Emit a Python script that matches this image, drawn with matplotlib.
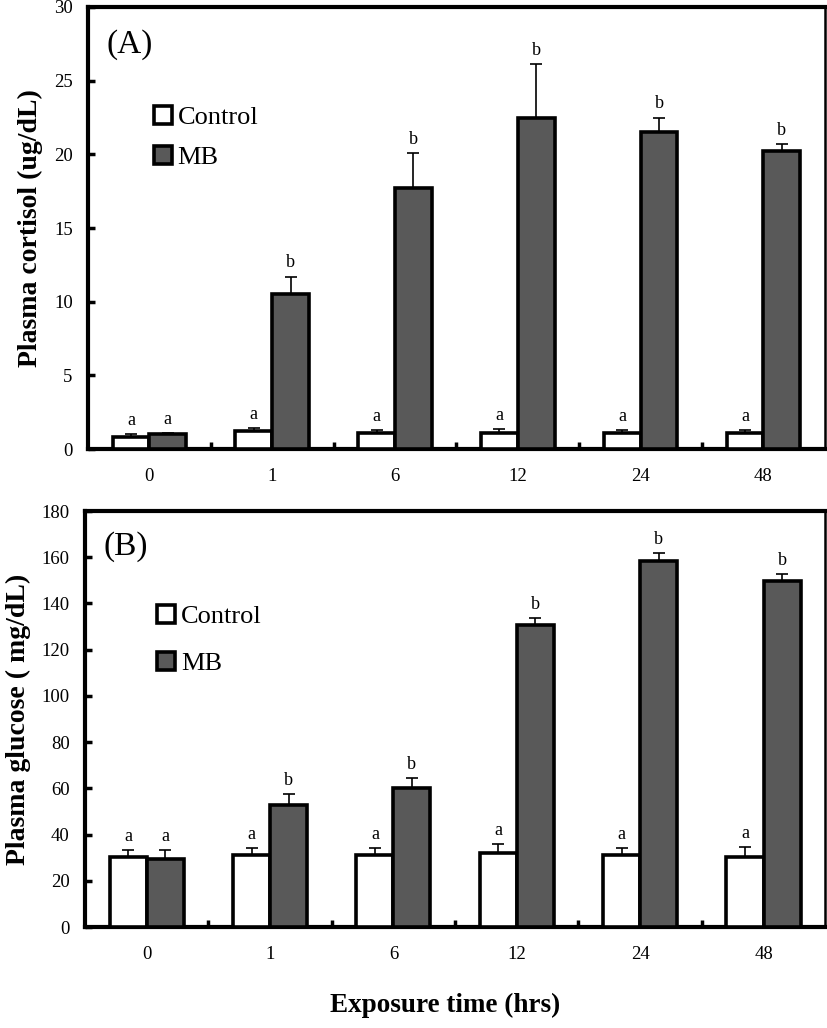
import matplotlib
matplotlib.use('Agg')
import matplotlib.pyplot as plt
import numpy as np

plt.rcParams['font.family'] = ['Liberation Serif', 'DejaVu Serif']

times = ['0', '1', '6', '12', '24', '48']

# panel A - plasma cortisol (ug/dL)
cort_ctrl = [0.8, 1.2, 1.1, 1.1, 1.1, 1.1]
cort_ctrl_err = [0.2, 0.2, 0.2, 0.25, 0.2, 0.2]
cort_mb = [1.0, 10.5, 17.7, 22.5, 21.5, 20.2]
cort_mb_err = [0.1, 1.2, 2.4, 3.6, 1.0, 0.5]
cort_ctrl_sig = ['a', 'a', 'a', 'a', 'a', 'a']
cort_mb_sig = ['a', 'b', 'b', 'b', 'b', 'b']

# panel B - plasma glucose (mg/dL)
glu_ctrl = [30.3, 31.1, 31.0, 32.0, 31.1, 30.3]
glu_ctrl_err = [3.0, 3.1, 3.0, 3.9, 3.1, 4.3]
glu_mb = [29.4, 52.8, 60.1, 130.7, 158.4, 149.7]
glu_mb_err = [3.9, 4.7, 4.4, 3.0, 3.4, 3.1]
glu_ctrl_sig = ['a', 'a', 'a', 'a', 'a', 'a']
glu_mb_sig = ['a', 'b', 'b', 'b', 'b', 'b']


def panel(ax, ctrl, ctrl_err, mb, mb_err, ctrl_sig, mb_sig, ymax, step, tag, ylabel, leg_anchor, leg_sp):
    x = np.arange(len(times))
    w = 0.3
    ekw = dict(ecolor='black', elinewidth=1.2, capsize=4, capthick=1.2)
    ax.bar(x - w/2, ctrl, w, color='white', edgecolor='black', linewidth=2.6,
           yerr=[np.zeros(len(ctrl)), ctrl_err], error_kw=ekw, label='Control', zorder=3)
    ax.bar(x + w/2, mb, w, color='#595959', edgecolor='black', linewidth=2.6,
           yerr=[np.zeros(len(mb)), mb_err], error_kw=ekw, label='MB', zorder=3)
    off = ymax * 0.012
    for i in range(len(x)):
        ax.text(x[i] - w/2, ctrl[i] + ctrl_err[i] + off, ctrl_sig[i], ha='center', va='bottom', fontsize=13)
        ax.text(x[i] + w/2, mb[i] + mb_err[i] + off, mb_sig[i], ha='center', va='bottom', fontsize=13)

    ax.set_xlim(-0.5, len(x) - 0.5)
    ax.set_ylim(0, ymax)
    ax.set_yticks(np.arange(0, ymax + 1, step))
    ax.set_xticks(x)
    ax.set_xticklabels(times)
    ax.set_xticks(x[:-1] + 0.5, minor=True)
    ax.tick_params(axis='x', which='major', length=0, pad=14, labelsize=13.5)
    ax.tick_params(axis='x', which='minor', direction='in', length=5, width=2.5)
    ax.tick_params(axis='y', direction='in', length=5, width=2.5, labelsize=13.5, pad=11)
    for s in ['left', 'bottom', 'top']:
        ax.spines[s].set_linewidth(3)
    ax.spines['right'].set_linewidth(1.8)
    ax.set_ylabel(ylabel, fontsize=20, fontweight='bold', labelpad=8)
    ax.text(0.025, 0.915, tag, transform=ax.transAxes, fontsize=24, va='center', ha='left')
    ax.legend(loc='upper left', bbox_to_anchor=leg_anchor, frameon=False, fontsize=19,
              handlelength=0.7, handleheight=0.7, handletextpad=0.2, labelspacing=leg_sp,
              borderaxespad=0)


fig = plt.figure(figsize=(8.27, 10.28), dpi=100)
axA = fig.add_axes([0.1064, 0.5632, 0.891, 0.43])
axB = fig.add_axes([0.1028, 0.0982, 0.895, 0.4047])

panel(axA, cort_ctrl, cort_ctrl_err, cort_mb, cort_mb_err, cort_ctrl_sig, cort_mb_sig,
      30, 5, '(A)', 'Plasma cortisol (ug/dL)', (0.075, 0.80), 0.62)
panel(axB, glu_ctrl, glu_ctrl_err, glu_mb, glu_mb_err, glu_ctrl_sig, glu_mb_sig,
      180, 20, '(B)', 'Plasma glucose ( mg/dL)', (0.083, 0.80), 0.9)

fig.text(0.538, 0.022, 'Exposure time (hrs)', ha='center', va='center', fontsize=19.5, fontweight='bold')

fig.savefig('out.png', dpi=100)
